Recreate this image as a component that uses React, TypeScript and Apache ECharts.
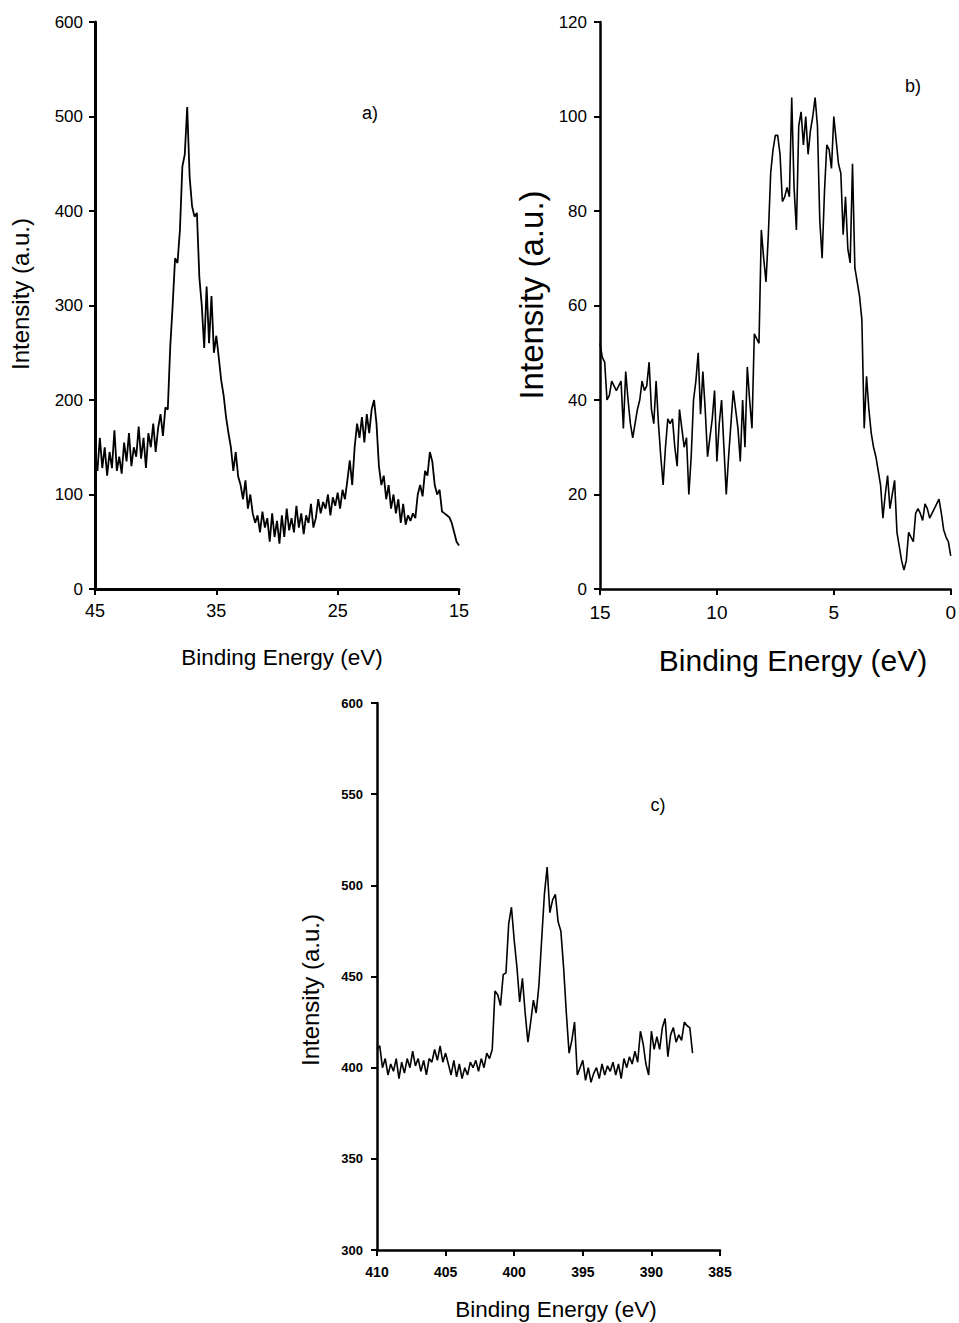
import React, { useEffect, useRef } from "react";
import * as echarts from "echarts";

// Panel a) : binding energy grid 45 -> 15 eV, 0.2 eV steps
const aStartEnergy = 45;
const aStepEnergy = 0.2;
const aIntensity = [
  140, 125, 160, 128, 150, 120, 145, 128, 168, 125,
  140, 122, 155, 135, 165, 130, 150, 140, 172, 138,
  160, 128, 165, 150, 175, 145, 170, 185, 162, 192,
  190, 256, 300, 350, 345, 380, 447, 460, 510, 436,
  405, 394, 398, 330, 300, 255, 320, 260, 310, 250,
  268, 245, 221, 205, 182, 165, 150, 125, 145, 119,
  110, 95, 115, 85, 100, 80, 70, 78, 60, 82,
  65, 75, 50, 80, 55, 72, 48, 78, 55, 85,
  62, 75, 60, 88, 65, 80, 58, 78, 70, 90,
  65, 75, 95, 80, 92, 85, 100, 78, 97, 88,
  102, 85, 105, 95, 115, 136, 110, 150, 175, 160,
  182, 155, 185, 165, 190, 200, 175, 130, 110, 120,
  95, 110, 85, 100, 80, 95, 70, 90, 68, 78,
  72, 80, 75, 100, 110, 98, 125, 120, 145, 135,
  110, 100, 105, 82, 80, 78, 76, 70, 60, 50,
  46,
];

// Panel b) : binding energy grid 15 -> 0 eV, 0.1 eV steps
const bStartEnergy = 15;
const bStepEnergy = 0.1;
const bIntensity = [
  52, 49, 48, 40, 41, 44, 43, 42, 43, 44,
  34, 46, 40, 35, 32, 35, 38, 40, 44, 42,
  43, 48, 38, 35, 44, 35, 28, 22, 30, 36,
  35, 36, 30, 26, 38, 34, 30, 32, 20, 28,
  40, 44, 50, 37, 46, 38, 28, 32, 36, 42,
  27, 35, 40, 30, 20, 28, 35, 42, 38, 34,
  27, 40, 30, 47, 40, 34, 54, 53, 52, 76,
  70, 65, 75, 88, 93, 96, 96, 92, 82, 83,
  85, 83, 104, 85, 76, 98, 101, 94, 100, 92,
  97, 100, 104, 98, 78, 70, 84, 94, 93, 89,
  100, 95, 90, 88, 75, 83, 72, 69, 90, 68,
  65, 62, 57, 34, 45, 38, 33, 30, 28, 25,
  22, 15, 20, 24, 17, 20, 23, 12, 9, 6,
  4, 6, 12, 11, 10, 16, 17, 16, 14.5, 18,
  17, 15, 16, 17, 18, 19, 16, 12.5, 11, 10,
  7,
];

// Panel c) : binding energy grid 410 -> 387 eV, 0.2 eV steps
const cStartEnergy = 410;
const cStepEnergy = 0.2;
const cIntensity = [
  410, 412, 400, 405, 396, 402, 398, 405, 394, 403,
  397, 405, 400, 409, 401, 405, 398, 404, 396, 405,
  403, 410, 404, 412, 403, 408, 402, 396, 404, 395,
  402, 394, 400, 396, 403, 400, 404, 398, 405, 400,
  408, 405, 410, 442, 440, 434, 451, 452, 479, 488,
  470, 455, 436, 449, 430, 414, 425, 437, 430, 445,
  470, 495, 510, 485, 492, 495, 480, 475, 455, 430,
  408, 415, 425, 396, 400, 404, 393, 400, 392, 397,
  400, 394, 402, 396, 401, 398, 403, 396, 402, 394,
  405, 400, 406, 402, 409, 403, 420, 413, 402, 396,
  420, 410, 417, 410, 422, 427, 406, 418, 422, 414,
  418, 415, 425, 423, 422, 408,
];

const aXTicks = [15, 25, 35, 45];
const xTitle = "Binding Energy (eV)";
const yTitle = "Intensity (a.u.)";
const panelLabels = ["a)", "b)", "c)"];

function toSeries(start: number, step: number, vals: number[]) {
  return vals.map((v, i) => [Number((start - step * i).toFixed(2)), v]);
}

const FONT = "Liberation Sans, Arial, Helvetica, sans-serif";

function axisBase(fontSize: number, margin: number, bold = false, lineWidth = 2.5) {
  return {
    axisLine: { show: true, onZero: false, lineStyle: { color: "#000", width: lineWidth } },
    axisTick: { show: true, inside: false, length: 6, lineStyle: { color: "#000", width: 2 } },
    splitLine: { show: false },
    axisLabel: {
      color: "#000",
      fontFamily: FONT,
      fontSize,
      margin,
      fontWeight: bold ? "bold" : "normal",
      showMinLabel: true,
      showMaxLabel: true,
    },
  };
}

function title(text: string, x: number, y: number, size: number, vertical = false) {
  return {
    type: "text",
    x,
    y,
    rotation: vertical ? Math.PI / 2 : 0,
    style: { text, fill: "#000", font: `${size}px ${FONT}`, align: "center", verticalAlign: "middle" },
  };
}

export default function App() {
  const ref = useRef<HTMLDivElement>(null);
  useEffect(() => {
    if (!ref.current) return;
    const chart = echarts.init(ref.current, undefined, { renderer: "svg" });
    const xa = axisBase(18, 13, false, 3);
    const xb = axisBase(19, 14);
    const xc = axisBase(14, 15, true);
    const option: any = {
      animation: false,
      backgroundColor: "#fff",
      grid: [
        { left: 95, top: 22, width: 364, height: 567 },
        { left: 600, top: 22, width: 355, height: 567 },
        { left: 377, top: 703, width: 343, height: 547 },
      ],
      xAxis: [
        {
          type: "value",
          gridIndex: 0,
          inverse: true,
          min: 15,
          max: 45,
          ...xa,
          axisTick: { ...xa.axisTick, customValues: aXTicks },
          axisLabel: { ...xa.axisLabel, customValues: aXTicks },
        },
        { type: "value", gridIndex: 1, inverse: true, min: 0, max: 15, interval: 5, ...xb },
        { type: "value", gridIndex: 2, inverse: true, min: 385, max: 410, interval: 5, ...xc },
      ],
      yAxis: [
        { type: "value", gridIndex: 0, min: 0, max: 600, interval: 100, ...axisBase(17, 12, false, 3) },
        { type: "value", gridIndex: 1, min: 0, max: 120, interval: 20, ...axisBase(17, 13) },
        { type: "value", gridIndex: 2, min: 300, max: 600, interval: 50, ...axisBase(13, 14, true) },
      ],
      series: [
        {
          type: "line",
          xAxisIndex: 0,
          yAxisIndex: 0,
          showSymbol: false,
          data: toSeries(aStartEnergy, aStepEnergy, aIntensity),
          lineStyle: { color: "#000", width: 1.8 },
        },
        {
          type: "line",
          xAxisIndex: 1,
          yAxisIndex: 1,
          showSymbol: false,
          data: toSeries(bStartEnergy, bStepEnergy, bIntensity),
          lineStyle: { color: "#000", width: 1.6 },
        },
        {
          type: "line",
          xAxisIndex: 2,
          yAxisIndex: 2,
          showSymbol: false,
          data: toSeries(cStartEnergy, cStepEnergy, cIntensity),
          lineStyle: { color: "#000", width: 1.6 },
        },
      ],
      graphic: [
        title(xTitle, 282, 657, 22.5),
        title(yTitle, 20, 294, 24, true),
        title(xTitle, 793, 660, 30),
        title(yTitle, 531, 295, 33, true),
        title(xTitle, 556, 1309, 22.5),
        title(yTitle, 310, 990, 24, true),
        title(panelLabels[0], 370, 113, 18),
        title(panelLabels[1], 913, 86, 18),
        title(panelLabels[2], 658, 805, 18),
      ],
    };
    chart.setOption(option);
    return () => chart.dispose();
  }, []);
  return (
    <div
      ref={ref}
      style={{ position: "absolute", left: 0, top: 0, width: 959, height: 1323 }}
    />
  );
}
